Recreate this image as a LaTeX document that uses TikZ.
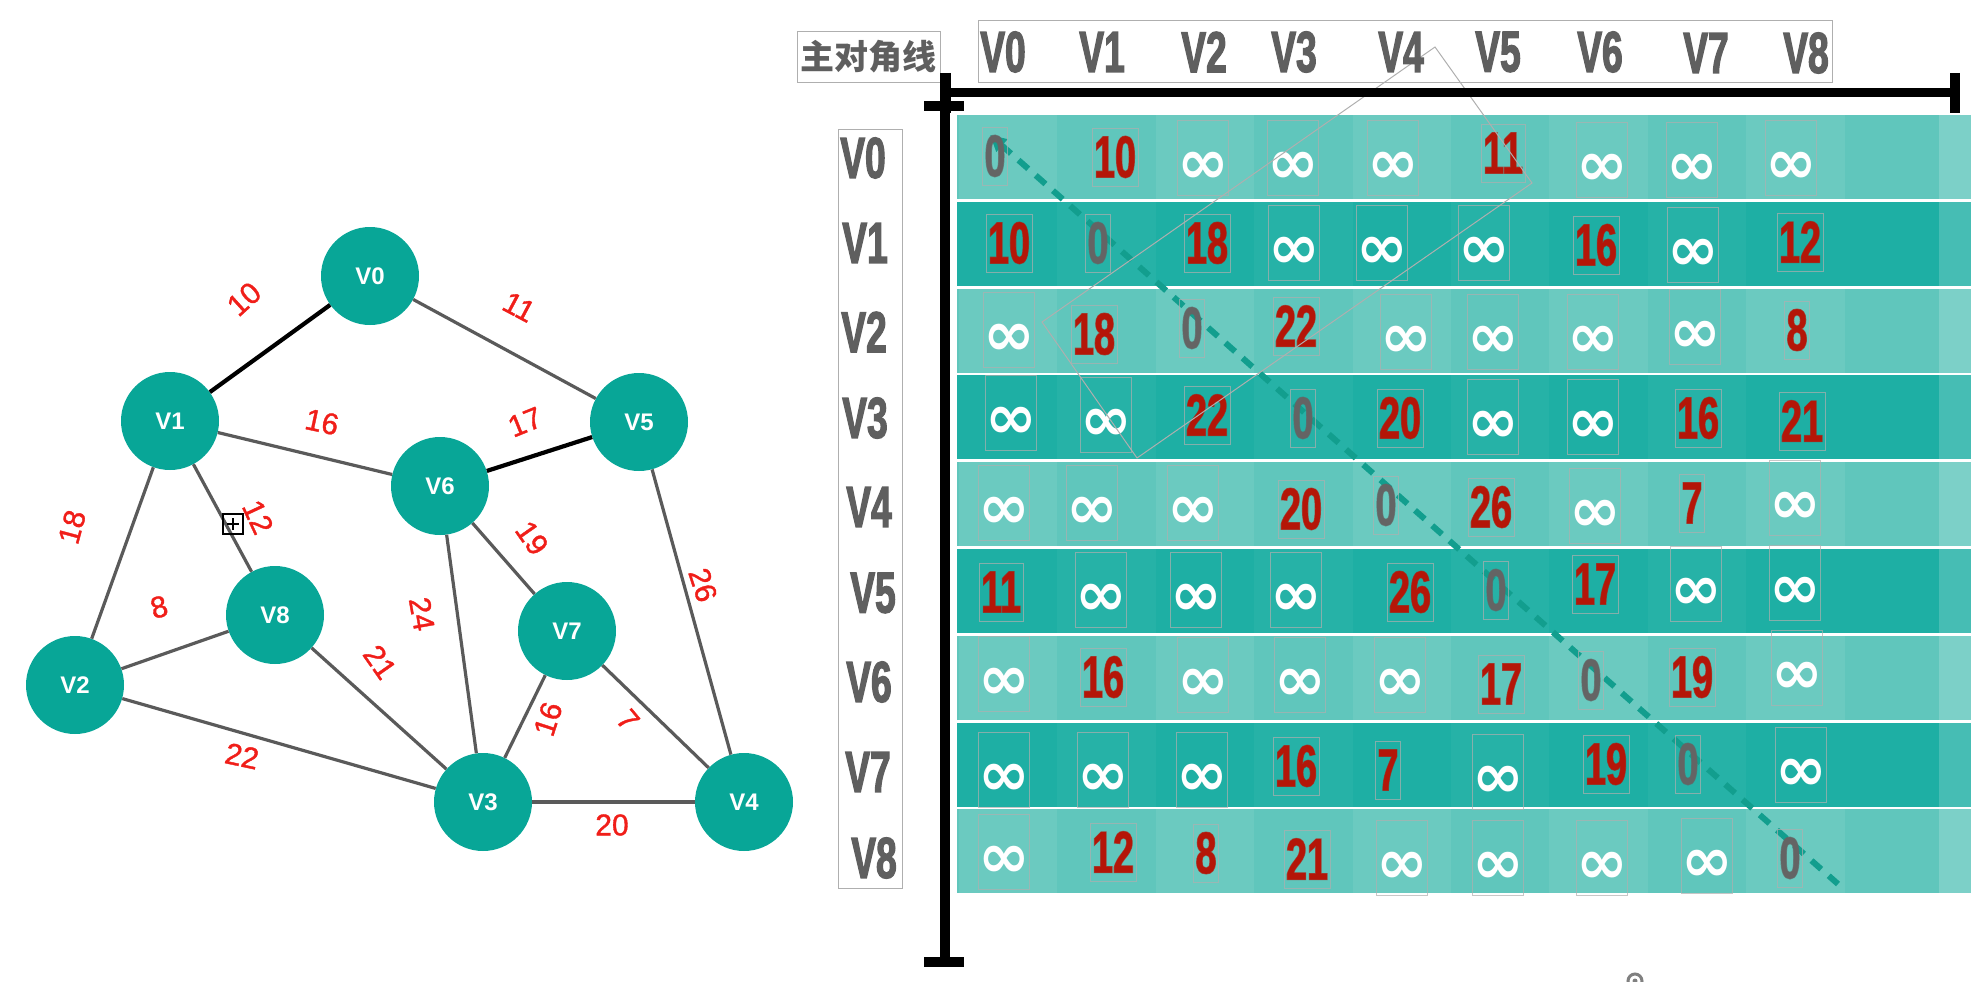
\documentclass[tikz,border=0pt]{standalone}
\usepackage{fontspec}
\setmainfont{Liberation Sans}
\newfontfamily\imp{Liberation Sans Bold}[FakeStretch=0.64,FakeBold=2]
\newfontfamily\sym{DejaVu Sans Bold}
\newfontfamily\cjk{Noto Sans CJK SC}
\newfontfamily\lab{Liberation Sans}[FakeBold=1.2]
\usetikzlibrary{arrows.meta}
\definecolor{nodeteal}{RGB}{8,166,151}
\definecolor{edgegray}{RGB}{90,90,90}
\definecolor{labred}{RGB}{240,30,25}
\definecolor{hdrgray}{RGB}{95,95,95}
\definecolor{numred}{RGB}{180,22,8}
\definecolor{zerogray}{RGB}{100,100,100}
\definecolor{lightrow}{RGB}{96,198,188}
\definecolor{darkrow}{RGB}{30,175,164}
\definecolor{framegray}{RGB}{175,175,175}
\definecolor{diagteal}{RGB}{18,158,142}
\begin{document}
\begin{tikzpicture}[x=1pt,y=-1pt,
 vnode/.style={circle,fill=nodeteal,minimum size=98pt,inner sep=0pt,text=white,font=\bfseries\fontsize{24}{26}\selectfont},
 gedge/.style={draw=edgegray,line width=3.2pt},
 bedge/.style={draw=black,line width=4.2pt},
 wlab/.style={text=labred,font=\lab\fontsize{30}{32}\selectfont,inner sep=0pt},
 hdr/.style={text=hdrgray,font=\imp\fontsize{58}{62}\selectfont,inner sep=0pt},
 cellbox/.style={draw=framegray,draw opacity=0.7,line width=0.8pt,inner ysep=0pt,inner xsep=2pt,minimum height=58pt,font=\imp\fontsize{59}{62}\selectfont},
 nr/.style={cellbox,text=numred},
 nz/.style={cellbox,text=zerogray},
 ni/.style={draw=framegray,draw opacity=0.7,line width=0.8pt,inner sep=0pt,minimum width=49pt,minimum height=75pt,text height=50pt,text depth=0pt,text=white,font=\sym\fontsize{62}{64}\selectfont},
 boxline/.style={draw=framegray,line width=1pt,inner sep=0pt},
 bar/.style={draw=black,line width=9.5pt},
 diag/.style={draw=diagteal,line width=6pt,dash pattern=on 13pt off 10pt},
]
\useasboundingbox (0,0) rectangle (1986,982);

% ---------------- graph ----------------
\node[vnode] (V0) at (370,276) {V0};
\node[vnode] (V1) at (170,421) {V1};
\node[vnode] (V5) at (639,422) {V5};
\node[vnode] (V6) at (440,486) {V6};
\node[vnode] (V8) at (275,615) {V8};
\node[vnode] (V7) at (567,631) {V7};
\node[vnode] (V2) at (75,685) {V2};
\node[vnode] (V3) at (483,802) {V3};
\node[vnode] (V4) at (744,802) {V4};

\draw[bedge] (V0) -- (V1);
\draw[gedge] (V0) -- (V5);
\draw[gedge] (V1) -- (V6);
\draw[bedge] (V6) -- (V5);
\draw[gedge] (V1) -- (V2);
\draw[gedge] (V1) -- (V8);
\draw[gedge] (V2) -- (V8);
\draw[gedge] (V2) -- (V3);
\draw[gedge] (V8) -- (V3);
\draw[gedge] (V6) -- (V3);
\draw[gedge] (V6) -- (V7);
\draw[gedge] (V7) -- (V3);
\draw[gedge] (V7) -- (V4);
\draw[gedge] (V5) -- (V4);
\draw[gedge] (V3) -- (V4);

\node[wlab,rotate=42] (l01) at (244,299) {10};
\node[wlab,rotate=-28] (l05) at (519,307) {11};
\node[wlab,rotate=-12] (l16) at (322,422) {16};
\node[wlab,rotate=22] (l65) at (525,422) {17};
\node[wlab,rotate=75] (l12) at (72,527) {18};
\node[wlab,rotate=-65] (l18) at (258,517) {12};
\node[wlab,rotate=-55] (l67) at (532,538) {19};
\node[wlab,rotate=-72] (l54) at (703,585) {26};
\node[wlab,rotate=15] (l28) at (159,607) {8};
\node[wlab,rotate=-80] (l63) at (422,614) {24};
\node[wlab,rotate=-55] (l83) at (380,662) {21};
\node[wlab,rotate=72] (l73) at (548,719) {16};
\node[wlab,rotate=-50] (l74) at (628,720) {7};
\node[wlab,rotate=-12] (l23) at (242,756) {22};
\node[wlab] (l34) at (612,825) {20};

\node[draw=black,line width=1.3pt,minimum size=20pt,inner sep=0pt] (pb) at (233,524) {};
\draw[line width=1.3pt] ([xshift=-6pt]pb.center) -- ([xshift=6pt]pb.center);
\draw[line width=1.3pt] ([yshift=-6pt]pb.center) -- ([yshift=6pt]pb.center);

% ---------------- matrix bands ----------------
\foreach \i in {0,2,4,6,8} {
  \pgfmathsetmacro\t{115+86.8*\i}
  \pgfmathsetmacro\b{\t+84}
  \fill[lightrow] (957,\t) rectangle (1971,\b);
  \foreach \j in {0,2,4,6,8} {
    \pgfmathsetmacro\xa{959+98.4*\j}
    \pgfmathsetmacro\xb{\xa+98.4}
    \fill[white,opacity=0.07] (\xa,\t) rectangle (\xb,\b);
  }
}
\foreach \i in {1,3,5,7} {
  \pgfmathsetmacro\t{115+86.8*\i}
  \pgfmathsetmacro\b{\t+84}
  \fill[darkrow] (957,\t) rectangle (1971,\b);
  \foreach \j in {1,3,5,7} {
    \pgfmathsetmacro\xa{959+98.4*\j}
    \pgfmathsetmacro\xb{\xa+98.4}
    \fill[white,opacity=0.04] (\xa,\t) rectangle (\xb,\b);
  }
}
\fill[white,opacity=0.18] (1939,115) rectangle (1971,893);

% diagonal
\coordinate (dA) at (990,135);
\coordinate (dB) at (1838,884);
\draw[diag,{Triangle[length=16pt,width=16pt]}-] (dA) -- (dB);

% ---------------- cells ----------------
\node[nz] (c00) at (995,156) {0};
\node[nr] (c01) at (1115,157) {10};
\node[ni] (c02) at (1203,158) {∞};
\node[ni] (c03) at (1293,158) {∞};
\node[ni] (c04) at (1393,158) {∞};
\node[nr] (c05) at (1503,153) {11};
\node[ni] (c06) at (1602,160) {∞};
\node[ni] (c07) at (1692,160) {∞};
\node[ni] (c08) at (1791,158) {∞};

\node[nr] (c10) at (1009,243) {10};
\node[nz] (c11) at (1098,243) {0};
\node[nr] (c12) at (1207,243) {18};
\node[ni] (c13) at (1294,243) {∞};
\node[ni] (c14) at (1382,243) {∞};
\node[ni] (c15) at (1484,243) {∞};
\node[nr] (c16) at (1596,245) {16};
\node[ni] (c17) at (1693,245) {∞};
\node[nr] (c18) at (1800,242) {12};

\node[ni] (c20) at (1009,330) {∞};
\node[nr] (c21) at (1094,334) {18};
\node[nz] (c22) at (1192,328) {0};
\node[nr] (c23) at (1296,326) {22};
\node[ni] (c24) at (1406,332) {∞};
\node[ni] (c25) at (1493,332) {∞};
\node[ni] (c26) at (1593,332) {∞};
\node[ni] (c27) at (1695,327) {∞};
\node[nr] (c28) at (1797,330) {8};

\node[ni] (c30) at (1011,413) {∞};
\node[ni] (c31) at (1106,415) {∞};
\node[nr] (c32) at (1207,415) {22};
\node[nz] (c33) at (1303,418) {0};
\node[nr] (c34) at (1400,418) {20};
\node[ni] (c35) at (1493,417) {∞};
\node[ni] (c36) at (1593,417) {∞};
\node[nr] (c37) at (1698,418) {16};
\node[nr] (c38) at (1802,421) {21};

\node[ni] (c40) at (1004,503) {∞};
\node[ni] (c41) at (1092,503) {∞};
\node[ni] (c42) at (1193,503) {∞};
\node[nr] (c43) at (1301,509) {20};
\node[nz] (c44) at (1386,505) {0};
\node[nr] (c45) at (1491,507) {26};
\node[ni] (c46) at (1595,506) {∞};
\node[nr] (c47) at (1692,503) {7};
\node[ni] (c48) at (1795,498) {∞};

\node[nr] (c50) at (1001,592) {11};
\node[ni] (c51) at (1101,590) {∞};
\node[ni] (c52) at (1196,590) {∞};
\node[ni] (c53) at (1296,590) {∞};
\node[nr] (c54) at (1410,592) {26};
\node[nz] (c55) at (1496,590) {0};
\node[nr] (c56) at (1595,584) {17};
\node[ni] (c57) at (1696,584) {∞};
\node[ni] (c58) at (1795,583) {∞};

\node[ni] (c60) at (1004,674) {∞};
\node[nr] (c61) at (1103,677) {16};
\node[ni] (c62) at (1203,675) {∞};
\node[ni] (c63) at (1300,675) {∞};
\node[ni] (c64) at (1400,675) {∞};
\node[nr] (c65) at (1501,684) {17};
\node[nz] (c66) at (1591,680) {0};
\node[nr] (c67) at (1692,677) {19};
\node[ni] (c68) at (1797,668) {∞};

\node[ni] (c70) at (1004,770) {∞};
\node[ni] (c71) at (1103,770) {∞};
\node[ni] (c72) at (1202,770) {∞};
\node[nr] (c73) at (1296,766) {16};
\node[nr] (c74) at (1388,770) {7};
\node[ni] (c75) at (1498,772) {∞};
\node[nr] (c76) at (1606,764) {19};
\node[nz] (c77) at (1688,764) {0};
\node[ni] (c78) at (1801,765) {∞};

\node[ni] (c80) at (1004,852) {∞};
\node[nr] (c81) at (1113,852) {12};
\node[nr] (c82) at (1206,853) {8};
\node[nr] (c83) at (1307,859) {21};
\node[ni] (c84) at (1402,858) {∞};
\node[ni] (c85) at (1498,858) {∞};
\node[ni] (c86) at (1602,858) {∞};
\node[ni] (c87) at (1707,856) {∞};
\node[nz] (c88) at (1790,858) {0};

% thin gray rotated frame
\coordinate (pA) at (1435,47);
\coordinate (pB) at (1532,183);
\coordinate (pC) at (1137,458);
\coordinate (pD) at (1042,322);
\draw[draw=framegray,line width=1pt] (pA) -- (pB) -- (pC) -- (pD) -- cycle;

% ---------------- headers ----------------
\node[boxline,minimum width=143pt,minimum height=50pt,text=hdrgray,font=\cjk\bfseries\fontsize{34}{36}\selectfont] (hk) at (868.5,57) {主对角线};
\node[boxline,minimum width=854pt,minimum height=61pt] (colbox) at (1405,51.5) {};
\node[hdr] (h0) at (1003,52) {V0};
\node[hdr] (h1) at (1102,52) {V1};
\node[hdr] (h2) at (1204,52) {V2};
\node[hdr] (h3) at (1294,52) {V3};
\node[hdr] (h4) at (1401,52) {V4};
\node[hdr] (h5) at (1498,52) {V5};
\node[hdr] (h6) at (1600,52) {V6};
\node[hdr] (h7) at (1706,53) {V7};
\node[hdr] (h8) at (1806,53) {V8};

\node[boxline,minimum width=64pt,minimum height=759pt] (rowbox) at (870,508.5) {};
\node[hdr] (r0) at (863,158) {V0};
\node[hdr] (r1) at (865,243) {V1};
\node[hdr] (r2) at (864,332) {V2};
\node[hdr] (r3) at (865,418) {V3};
\node[hdr] (r4) at (869,507) {V4};
\node[hdr] (r5) at (873,593) {V5};
\node[hdr] (r6) at (869,682) {V6};
\node[hdr] (r7) at (868,772) {V7};
\node[hdr] (r8) at (874,858) {V8};

% ---------------- bars ----------------
\coordinate (hbL) at (946,92.5);
\coordinate (hbR) at (1955,92.5);
\coordinate (hbLt) at (946,73);
\coordinate (hbLb) at (946,113);
\coordinate (hbRt) at (1955,73);
\coordinate (hbRb) at (1955,113);
\draw[bar] (hbL) -- (hbR);
\draw[bar] (hbLt) -- (hbLb);
\draw[bar] (hbRt) -- (hbRb);
\coordinate (vbT) at (945,73);
\coordinate (vbB) at (945,962);
\coordinate (vtL) at (924,106);
\coordinate (vtR) at (964,106);
\coordinate (vbL) at (924,962);
\coordinate (vbR) at (964,962);
\draw[bar,line width=10pt] (vbT) -- (vbB);
\draw[bar,line width=10pt] (vtL) -- (vtR);
\draw[bar,line width=10pt] (vbL) -- (vbR);

% small icon at bottom edge
\coordinate (ic) at (1635,981);
\draw[gray,line width=3pt] (ic) circle (7pt);
\fill[gray] (ic) circle (2.5pt);
\end{tikzpicture}
\end{document}
